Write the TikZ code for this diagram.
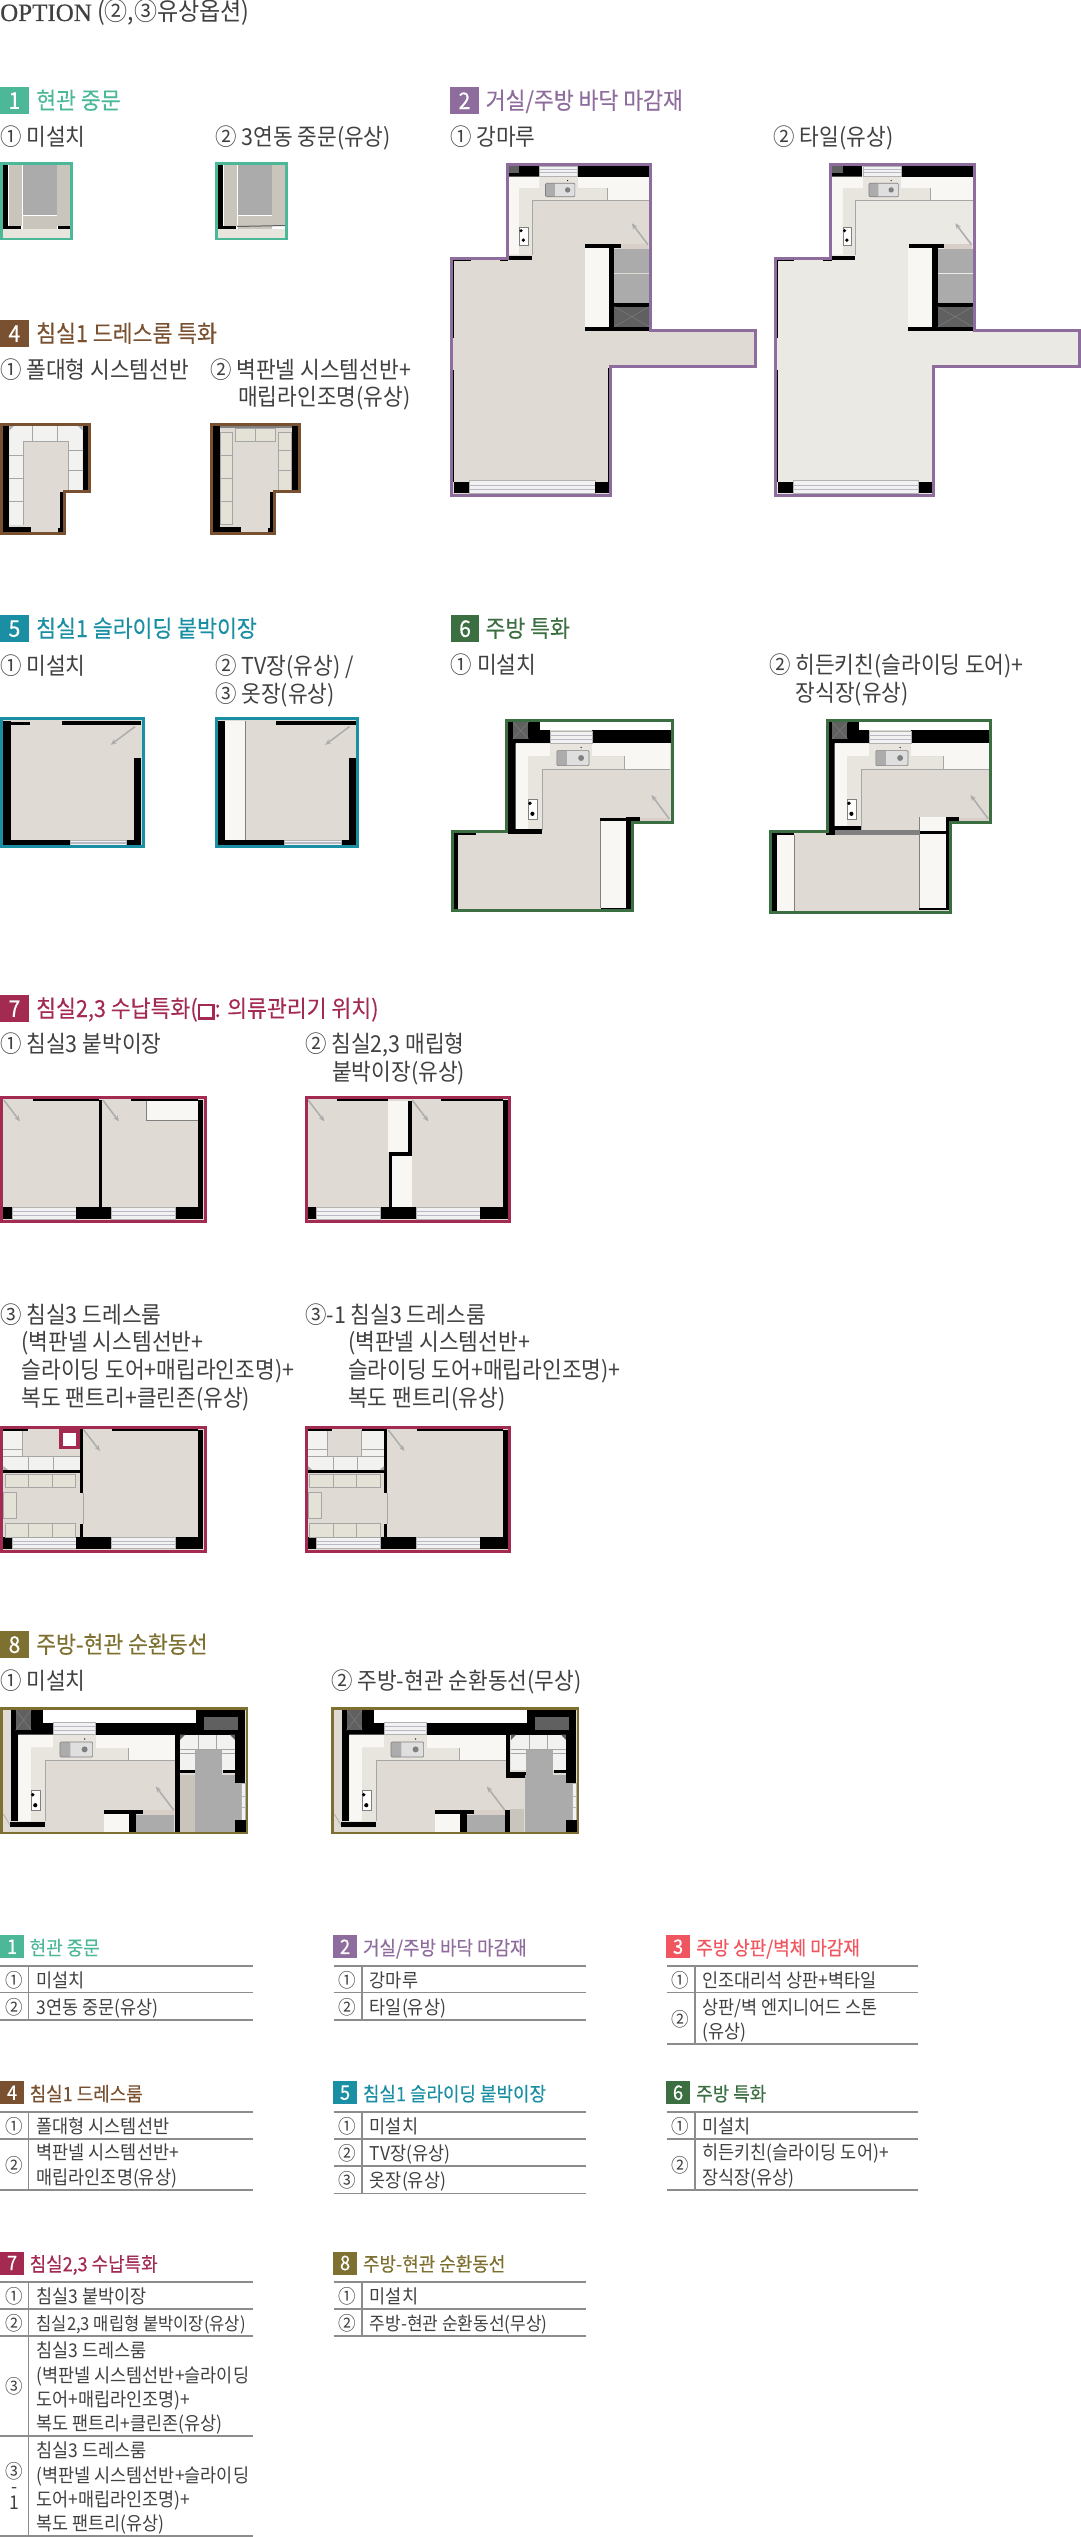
\documentclass[tikz,border=0pt]{standalone}
\usepackage{fontspec}
\usetikzlibrary{arrows.meta}
\setmainfont[FakeStretch=0.92]{Noto Sans CJK KR}
\newfontfamily\headfont[FakeStretch=0.92,FakeBold=0.3]{Noto Sans CJK KR}
\newfontfamily\titlefont[FakeBold=0.6]{Liberation Serif}

\definecolor{optone}{HTML}{4DB898}
\definecolor{opttwo}{HTML}{8F6C9E}
\definecolor{optthree}{HTML}{F0565F}
\definecolor{optfour}{HTML}{7A5130}
\definecolor{optfive}{HTML}{1A8FA3}
\definecolor{optsix}{HTML}{3B6E41}
\definecolor{optseven}{HTML}{A32A50}
\definecolor{opteight}{HTML}{7D7030}
\definecolor{labelgray}{HTML}{404040}
\definecolor{floorA}{HTML}{DFDAD4}
\definecolor{floorB}{HTML}{EBE9E4}
\definecolor{cabbeige}{HTML}{E4E1D6}
\definecolor{cabgray}{HTML}{C9C5BD}
\definecolor{whitecab}{HTML}{F8F7F3}
\definecolor{lightcab}{HTML}{E8E4DE}
\definecolor{tilewhite}{HTML}{F2F2F0}
\definecolor{stonegray}{HTML}{ABABAB}
\definecolor{darkgray}{HTML}{606060}
\definecolor{stripbrown}{HTML}{D8CFC8}

\tikzset{
    optlabel/.style={anchor=west, inner sep=0pt, text=labelgray, font=\fontsize{23.3}{27}\selectfont, text height=21pt, text depth=2pt},
    sechead/.style={anchor=west, inner sep=0pt, font=\headfont\fontsize{23.5}{27}\selectfont, text height=20pt, text depth=3pt},
    badge/.style={anchor=north west, inner sep=0pt, minimum width=28.5pt, minimum height=27pt, text=white, font=\headfont\fontsize{23}{27}\selectfont},
    tabbadge/.style={anchor=north west, inner sep=0pt, minimum width=23.7pt, minimum height=23pt, text=white, font=\headfont\fontsize{20}{24}\selectfont},
    tabhead/.style={anchor=west, inner sep=0pt, font=\headfont\fontsize{19.5}{24}\selectfont, text height=19pt, text depth=2pt},
    tabtext/.style={anchor=west, inner sep=0pt, text=labelgray, font=\fontsize{19}{24}\selectfont, text height=18pt, text depth=2.5pt},
    tabnum/.style={anchor=center, inner sep=0pt, text=labelgray, font=\fontsize{19}{24}\selectfont, text height=18pt, text depth=2.5pt},
    tabrule/.style={draw=gray!90, line width=1.5pt},
    doorline/.style={draw=gray!65, line width=1.5pt, -{Stealth[open,length=6pt,width=5pt]}},
    thinline/.style={draw=gray!70, line width=0.6pt},
}

\newcommand{\planbox}[5]{\fill[#1] (#2,#3) rectangle (#4,#5);}
\newcommand{\cabbox}[4]{\draw[thinline, fill=cabbeige] (#1,#2) rectangle (#3,#4);}
\newcommand{\windowbar}[4]{%
    \fill[white!95!black] (#1,#2) rectangle (#3,#4);
    \draw[gray!60, line width=0.5pt] (#1,#2) rectangle (#3,#4);
    \draw[blue!10!gray!50, line width=0.9pt] (#1,{#2+(#4-#2)*0.35}) -- (#3,{#2+(#4-#2)*0.35});
    \draw[blue!10!gray!50, line width=0.9pt] (#1,{#2+(#4-#2)*0.65}) -- (#3,{#2+(#4-#2)*0.65});
}
\newcommand{\xsquare}[4]{%
    \fill[darkgray] (#1,#2) rectangle (#3,#4);
    \draw[gray, line width=0.4pt] (#1,#2) -- (#3,#4) (#1,#4) -- (#3,#2);
}
\newcommand{\kitchenpart}{%
    \fill[whitecab] (0,0) -- (35,0) -- (35,13) -- (12.7,13) -- (12.7,86.7) -- (0,86.7) -- cycle;
    \fill[lightcab] (12.7,13) -- (35,13) -- (35,0) -- (77.3,0) -- (77.3,13) -- (110,13) -- (110,26) -- (26.7,26) -- (26.7,86.7) -- (12.7,86.7) -- cycle;
    \planbox{whitecab}{77.3}{0}{110}{13}
    \planbox{whitecab}{110}{0}{156.7}{26}
    \draw[thinline] (110,13) -- (110,26) -- (26.7,26) -- (26.7,86.7);
    \draw[thinline] (110,26) -- (156.7,26);
    \windowbar{35}{-12}{77.3}{0}
    \fill[gray!25, rounded corners=1pt] (41.7,7.3) rectangle (74.3,22.3);
    \fill[gray!65, rounded corners=1pt] (41.7,7.3) rectangle (52,22.3);
    \draw[gray, line width=0.6pt, rounded corners=1pt] (41.7,7.3) rectangle (74.3,22.3);
    \fill[gray] (66.3,14.7) circle (3);
    \fill[black] (66.3,4.3) circle (0.7);
    \fill[white] (12.7,55.7) rectangle (22.3,75.7);
    \draw[gray, line width=0.4pt] (12.7,55.7) rectangle (22.3,75.7);
    \fill[black] (14.5,60) circle (1.9) (17,70.5) circle (2.1);
    \planbox{stripbrown}{125}{75}{155.7}{80.7}
    \planbox{black}{85.7}{75}{125}{79.7}
    \draw[doorline] (155.5,75.5) -- (137.5,51.7);
}
\newcommand{\kitchenwalls}[3]{%
    \planbox{black}{-7.4}{#1}{0}{86.7}
    \planbox{black}{-7.4}{#1}{24.6}{#2}
    \planbox{black}{0}{#2}{35}{0}
    \planbox{white}{24.6}{#1}{#3}{#2}
    \planbox{black}{77.3}{#2}{#3}{0}
    \xsquare{-2.7}{#1}{13}{-4.5}
}
\newcommand{\livingplan}[1]{%
    \fill[#1] (57,1.5) -- (200.5,1.5) -- (200.5,168.2) -- (305.5,168.2) -- (305.5,204.2) -- (160.3,204.2) -- (160.3,333.2) -- (1.5,333.2) -- (1.5,95.5) -- (57,95.5) -- cycle;
    \planbox{black}{58}{3.3}{88.8}{14}
    \planbox{darkgray}{58}{3.3}{69.3}{10}
    \planbox{black}{127.4}{3.3}{199}{14}
    \begin{scope}[shift={(58,14)}, scale=0.9]
        \kitchenpart
    \end{scope}
    \planbox{black}{58}{93}{81.7}{97.3}
    \planbox{black}{2.9}{96.7}{20.7}{98}
    \planbox{black}{49.8}{96.7}{58}{98}
    \planbox{black}{2.9}{97.3}{4.1}{175.7}
    \planbox{black}{2.9}{207.3}{4.1}{319}
    \planbox{whitecab}{134.9}{85.7}{158.5}{164}
    \planbox{black}{158.5}{85.7}{164.3}{164}
    \planbox{stonegray}{164.3}{86.7}{199.2}{110}
    \planbox{stonegray}{164.3}{111.7}{199.2}{140}
    \planbox{black}{164.3}{140}{199.2}{144}
    \xsquare{164.3}{144}{199.2}{164}
    \planbox{black}{134.9}{164}{199.2}{168}
    \planbox{black}{4.1}{319}{19.5}{330}
    \windowbar{19.5}{318}{145.2}{330.7}
    \planbox{black}{145.2}{319}{158.9}{330}
    \planbox{black}{158.4}{205.7}{159.2}{319}
    \draw[opttwo, line width=3pt] (57,1.5) -- (200.5,1.5) -- (200.5,168.2) -- (305.5,168.2) -- (305.5,204.2) -- (160.3,204.2) -- (160.3,333.2) -- (1.5,333.2) -- (1.5,95.5) -- (57,95.5) -- cycle;
}
\newcommand{\bedoneplan}{%
    \planbox{floorA}{1.5}{1.5}{143}{130}
    \planbox{black}{3.3}{3.3}{10.7}{127.7}
    \planbox{black}{61.7}{3.3}{141}{8}
    \planbox{black}{134.3}{40.3}{141}{127.7}
    \planbox{black}{3.3}{122.7}{70}{127.7}
    \planbox{black}{126.7}{122.7}{141}{127.7}
    \windowbar{70}{122.7}{126.7}{128.3}
    \draw[doorline] (135,9.3) -- (110.7,27.5);
}
\newcommand{\bedshell}{%
    \planbox{floorA}{1.5}{1.5}{205}{125}
    \planbox{black}{198}{3.8}{203.3}{122.6}
    \planbox{black}{3.3}{111}{12.2}{122.6}
    \windowbar{12.2}{111}{76}{122.6}
    \planbox{black}{76}{111}{111.4}{122.6}
    \windowbar{111.4}{111}{175.5}{122.6}
    \planbox{black}{175.5}{111}{203.3}{122.6}
}
\newcommand{\dressroom}{%
    \planbox{tilewhite}{3.3}{4}{79.6}{44}
    \planbox{floorA}{22.4}{4}{57}{30.7}
    \draw[thinline] (22.4,4) -- (22.4,30.7) -- (57,30.7) -- (57,4);
    \draw[thinline] (3.3,23) -- (22.4,23) (3.3,30.7) -- (79.6,30.7) (28.6,30.7) -- (28.6,44) (53,30.7) -- (53,44);
    \fill[stonegray] (3.3,40) -- (8,44) -- (3.3,44) -- cycle;
    \planbox{black}{3.3}{44}{79.6}{47}
    \planbox{black}{3.3}{3}{27.8}{4.5}
    \planbox{black}{79.6}{3}{82.9}{67}
    \planbox{black}{79.6}{97.7}{82.9}{111}
    \planbox{black}{112}{3}{198}{4.6}
    \cabbox{5}{48}{75.5}{61.3}
    \cabbox{3.3}{66}{16.3}{92}
    \cabbox{5}{97.7}{75.5}{111}
    \draw[thinline] (28.6,48) -- (28.6,61.3) (52,48) -- (52,61.3) (28.6,97.7) -- (28.6,111) (52,97.7) -- (52,111);
    \draw[thinline] (82.9,67) -- (82.9,97.7);
    \draw[doorline] (83.7,3.8) -- (100,25);
}
\newcommand{\opttable}[6]{%
    \foreach \y in {#4} {
        \draw[tabrule] (#1,\y) -- (#3,\y);
    }
    \draw[tabrule] (#2,#5) -- (#2,#6);
}
\newcommand{\dresstiles}{%
    \planbox{tilewhite}{180}{27.7}{235}{62.7}
    \draw[thinline] (198.3,27.7) -- (198.3,42.7) (216.7,27.7) -- (216.7,42.7) (180,42.7) -- (235,42.7) (180,46.7) -- (195,46.7) (221.7,46.7) -- (235,46.7);
    \fill[darkgray] (180,27.7) -- (185,27.7) -- (180,33) -- cycle;
    \fill[darkgray] (235,27.7) -- (230,27.7) -- (235,33) -- cycle;
    \planbox{stonegray}{195}{42.7}{221.7}{68.3}
    \planbox{black}{222.7}{62.7}{235}{65.7}
    \planbox{black}{235}{27.7}{245}{76}
    \windowbar{241.7}{76.7}{245.7}{113.3}
    \planbox{black}{235}{113.3}{245.7}{125}
    \draw[thinline] (3.3,107) -- (10,118);
}
\newcommand{\kitchenloop}{%
    \planbox{floorA}{1.5}{1.5}{246.5}{125.5}
    \begin{scope}[shift={(18.3,27.7)}]
        \kitchenwalls{-25}{-12}{178}
        \kitchenpart
        \planbox{black}{178}{-25}{226.7}{0}
        \planbox{black}{77.3}{-12}{226.7}{0}
        \planbox{black}{-8.3}{87}{26.7}{92.3}
    \end{scope}
    \planbox{darkgray}{204}{10}{238}{23.3}
    \planbox{whitecab}{103.7}{107.4}{129.3}{125}
    \planbox{black}{129.3}{107.4}{136}{125}
    \planbox{stonegray}{136}{108.4}{174}{125}
}

\begin{document}
\begin{tikzpicture}[x=1pt, y=-1pt]
    \useasboundingbox (0,0) rectangle (1081,2537);

    \node[anchor=west, inner sep=0pt, text=labelgray, font=\fontsize{25}{30}\selectfont, text height=20pt, text depth=3pt] (title) at (0,12.5) {{\titlefont\fontsize{25}{30}\selectfont OPTION} (②,③유상옵션)};

    \node[badge, fill=optone] (b1) at (0,87) {1};
    \node[sechead, text=optone] (h1) at (36,100.5) {현관 중문};
    \node[optlabel] (l11) at (0,136) {① 미설치};
    \node[optlabel] (l12) at (215,136) {② 3연동 중문(유상)};
    \foreach \px in {0,215} {
        \begin{scope}[shift={(\px,162)}, xscale=0.983]
            \planbox{black}{3.4}{2.5}{8.5}{67}
            \planbox{cabgray}{9}{2.5}{22}{64}
            \planbox{black}{8.5}{64}{21.4}{67}
            \planbox{stonegray}{23}{2.5}{57.6}{52.5}
            \planbox{cabgray}{23}{53.5}{57.6}{67}
            \planbox{cabgray}{58}{2.5}{71}{64}
            \planbox{lightcab}{3.4}{67}{71}{75.7}
        \end{scope}
    }
    \planbox{black}{58}{226}{70}{229}
    \draw[darkgray, line width=1pt] (237,226.5) -- (285,225.5);
    \draw[optone, line width=2.5pt] (1.25,163.25) rectangle (71.5,238.75);
    \draw[optone, line width=2.5pt] (216.25,163.25) rectangle (286.5,238.75);

    \node[badge, fill=optfour] (b4) at (0,320) {4};
    \node[sechead, text=optfour] (h4) at (36,333.5) {침실1 드레스룸 특화};
    \node[optlabel] (l41) at (0,369) {① 폴대형 시스템선반};
    \node[optlabel] (l42) at (210,369) {② 벽판넬 시스템선반+};
    \node[optlabel] (l42b) at (238,396) {매립라인조명(유상)};
    \begin{scope}[shift={(0,423)}, xscale=0.983]
        \fill[floorA] (1.5,1.5) -- (91.5,1.5) -- (91.5,68) -- (65.5,68) -- (65.5,110) -- (1.5,110) -- cycle;
        \planbox{black}{3}{3}{9.5}{109}
        \planbox{black}{84}{3}{90.5}{66.8}
        \fill[tilewhite] (9.5,3) -- (84,3) -- (84,66.8) -- (69.5,66.8) -- (69.5,18.6) -- (24,18.6) -- (24,101.8) -- (9.5,101.8) -- cycle;
        \draw[thinline] (24,101.8) -- (24,18.6) -- (69.5,18.6) -- (69.5,66.8);
        \foreach \gx in {33,58.6} {
            \draw[thinline] (\gx,3) -- (\gx,18.6);
        }
        \foreach \gy in {26.8,47.5} {
            \draw[thinline] (69.5,\gy) -- (84,\gy);
        }
        \foreach \gy in {32,55,78.6} {
            \draw[thinline] (9.5,\gy) -- (24,\gy);
        }
        \fill[stonegray] (9.5,3) -- (14,3) -- (9.5,7.5) -- cycle;
        \fill[stonegray] (84,3) -- (79.5,3) -- (84,7.5) -- cycle;
        \planbox{black}{3}{103.6}{31.5}{109}
        \planbox{black}{61}{69}{64.4}{109}
        \planbox{black}{59.3}{104.6}{64.4}{109}
        \draw[optfour, line width=3pt] (1.5,1.5) -- (91.5,1.5) -- (91.5,68) -- (65.5,68) -- (65.5,110) -- (1.5,110) -- cycle;
    \end{scope}
    \begin{scope}[shift={(210,423)}, xscale=0.983]
        \fill[floorA] (1.5,1.5) -- (91.5,1.5) -- (91.5,68) -- (65.5,68) -- (65.5,110) -- (1.5,110) -- cycle;
        \planbox{gray}{10}{3}{83}{5}
        \planbox{black}{3}{3}{10}{109}
        \cabbox{10}{9}{22.4}{101}
        \cabbox{26}{5.4}{66}{18.6}
        \cabbox{69.5}{9}{83}{67}
        \planbox{black}{83}{3}{90.5}{67}
        \draw[thinline] (10,32) -- (22.4,32) (10,55) -- (22.4,55) (10,78.6) -- (22.4,78.6) (46,5.4) -- (46,18.6) (69.5,26.8) -- (83,26.8) (69.5,47.5) -- (83,47.5);
        \planbox{black}{3}{103.6}{31.5}{109}
        \planbox{black}{61}{69}{64.4}{109}
        \planbox{black}{59.3}{104.6}{64.4}{109}
        \draw[optfour, line width=3pt] (1.5,1.5) -- (91.5,1.5) -- (91.5,68) -- (65.5,68) -- (65.5,110) -- (1.5,110) -- cycle;
    \end{scope}

    \node[badge, fill=opttwo] (b2) at (450,87) {2};
    \node[sechead, text=opttwo] (h2) at (485.5,100.5) {거실/주방 바닥 마감재};
    \node[optlabel] (l21) at (450,136) {① 강마루};
    \node[optlabel] (l22) at (773.5,136) {② 타일(유상)};
    \begin{scope}[shift={(450,162.7)}]
        \livingplan{floorA}
    \end{scope}
    \begin{scope}[shift={(773.5,162.7)}]
        \livingplan{floorB}
    \end{scope}

    \node[badge, fill=optfive] (b5) at (0,615) {5};
    \node[sechead, text=optfive] (h5) at (36,628.5) {침실1 슬라이딩 붙박이장};
    \node[optlabel] (l51) at (0,665) {① 미설치};
    \node[optlabel] (l52) at (215,665) {② TV장(유상) /};
    \node[optlabel] (l53) at (215,692.5) {③ 옷장(유상)};
    \begin{scope}[shift={(0,717.3)}]
        \bedoneplan
        \planbox{black}{10.7}{4.3}{30}{8}
        \draw[optfive, line width=3pt] (1.5,1.5) rectangle (143,129.5);
    \end{scope}
    \begin{scope}[shift={(214.5,717.3)}]
        \bedoneplan
        \planbox{whitecab}{10.7}{3.3}{30.7}{122.7}
        \draw[gray, line width=0.7pt] (30.7,3.3) -- (30.7,122.7);
        \draw[optfive, line width=3pt] (1.5,1.5) rectangle (143,129.5);
    \end{scope}

    \node[badge, fill=optsix] (b6) at (450.6,615) {6};
    \node[sechead, text=optsix] (h6) at (485.3,628.5) {주방 특화};
    \node[optlabel] (l61) at (450.6,664) {① 미설치};
    \node[optlabel] (l62) at (769,664) {② 히든키친(슬라이딩 도어)+};
    \node[optlabel] (l62b) at (795.6,691.5) {장식장(유상)};
    \begin{scope}[shift={(450.6,719)}, xscale=0.988]
        \fill[floorA] (56.7,1.5) -- (224.3,1.5) -- (224.3,103.5) -- (183.9,103.5) -- (183.9,191.8) -- (1.5,191.8) -- (1.5,112.5) -- (56.7,112.5) -- cycle;
        \begin{scope}[shift={(65.8,24.3)}]
            \kitchenwalls{-21}{-13.3}{157.4}
            \kitchenpart
        \end{scope}
        \planbox{black}{58}{110.3}{92.4}{115.3}
        \planbox{black}{2.4}{113.3}{7.2}{191}
        \planbox{black}{2.4}{113.3}{25.2}{116}
        \planbox{whitecab}{152}{102}{178}{189.3}
        \draw[gray, line width=0.7pt] (152,102) -- (152,189.3);
        \planbox{black}{178}{102}{183.2}{191}
        \planbox{black}{152}{189.3}{183.2}{191}
        \planbox{black}{178}{97.7}{191.2}{102}
        \draw[optsix, line width=3pt] (56.7,1.5) -- (224.3,1.5) -- (224.3,103.5) -- (183.9,103.5) -- (183.9,191.8) -- (1.5,191.8) -- (1.5,112.5) -- (56.7,112.5) -- cycle;
    \end{scope}
    \begin{scope}[shift={(769,719)}, xscale=0.988]
        \fill[floorA] (59.5,1.5) -- (224.1,1.5) -- (224.1,103.5) -- (184.1,103.5) -- (184.1,193.5) -- (1.5,193.5) -- (1.5,112.5) -- (59.5,112.5) -- cycle;
        \begin{scope}[shift={(66.4,24.3)}]
            \kitchenwalls{-21}{-13.3}{156.7}
            \kitchenpart
        \end{scope}
        \planbox{black}{66.4}{106.7}{92.8}{111}
        \planbox{black}{58}{106.7}{66.8}{116}
        \planbox{gray}{66.8}{111}{152}{116}
        \planbox{black}{2.8}{113.3}{7.6}{192.7}
        \planbox{black}{2.8}{113.3}{25.6}{116}
        \planbox{whitecab}{7.6}{116}{25.6}{192.7}
        \draw[gray, line width=0.7pt] (25.6,116) -- (25.6,192.7);
        \planbox{whitecab}{152}{97.7}{178.8}{112}
        \planbox{black}{152}{112}{178.8}{115.3}
        \planbox{whitecab}{152}{115.3}{178.8}{189.3}
        \draw[gray, line width=0.7pt] (152,97.7) -- (152,189.3);
        \planbox{black}{178.8}{97.7}{184.8}{191}
        \planbox{black}{152}{189.3}{184.8}{191}
        \planbox{black}{178.8}{97.7}{192}{101.7}
        \draw[optsix, line width=3pt] (59.5,1.5) -- (224.1,1.5) -- (224.1,103.5) -- (184.1,103.5) -- (184.1,193.5) -- (1.5,193.5) -- (1.5,112.5) -- (59.5,112.5) -- cycle;
    \end{scope}

    \node[badge, fill=optseven] (b7) at (0,995) {7};
    \node[sechead, text=optseven] (h7) at (36,1008.5) {침실2,3 수납특화({\setlength{\fboxsep}{0pt}\setlength{\fboxrule}{2.5pt}\raisebox{0pt}{\fbox{\rule{12pt}{0pt}\rule{0pt}{11pt}}}}: 의류관리기 위치)};
    \node[optlabel] (l71) at (0,1043) {① 침실3 붙박이장};
    \node[optlabel] (l72) at (305,1043) {② 침실2,3 매립형};
    \node[optlabel] (l72b) at (332,1070.5) {붙박이장(유상)};
    \begin{scope}[shift={(0,1096.4)}]
        \bedshell
        \planbox{black}{32.7}{3}{98.8}{4.6}
        \planbox{black}{131}{3}{198}{4.6}
        \planbox{black}{98.8}{3.8}{102}{111}
        \planbox{whitecab}{146}{4.6}{198}{24}
        \draw[gray, line width=0.7pt] (146,4.6) -- (146,24) -- (198,24);
        \draw[doorline] (4,3.8) -- (20,25);
        \draw[doorline] (102.9,3.8) -- (119,25);
        \draw[optseven, line width=3pt] (1.5,1.5) rectangle (205,125);
    \end{scope}
    \begin{scope}[shift={(304.5,1096.4)}]
        \bedshell
        \planbox{black}{32.7}{3}{83.3}{4.6}
        \planbox{black}{136}{3}{198}{4.6}
        \planbox{whitecab}{83.3}{4.6}{103.7}{55.6}
        \planbox{black}{103.7}{4.6}{107}{57.5}
        \planbox{black}{84.5}{56}{107}{59.4}
        \planbox{black}{84.5}{57.5}{87.3}{111}
        \planbox{whitecab}{87.3}{59.4}{107}{111}
        \draw[doorline] (3.7,3.8) -- (20,25);
        \draw[doorline] (107.8,3.8) -- (124,25);
        \draw[optseven, line width=3pt] (1.5,1.5) rectangle (205,125);
    \end{scope}

    \node[optlabel] (l73) at (0,1314) {③ 침실3 드레스룸};
    \node[optlabel] (l73b) at (21.5,1341) {(벽판넬 시스템선반+};
    \node[optlabel] (l73c) at (21.5,1369) {슬라이딩 도어+매립라인조명)+};
    \node[optlabel] (l73d) at (21.5,1396.5) {복도 팬트리+클린존(유상)};
    \node[optlabel] (l74) at (305,1314) {③-1 침실3 드레스룸};
    \node[optlabel] (l74b) at (348,1341) {(벽판넬 시스템선반+};
    \node[optlabel] (l74c) at (348,1369) {슬라이딩 도어+매립라인조명)+};
    \node[optlabel] (l74d) at (348,1396.5) {복도 팬트리(유상)};
    \begin{scope}[shift={(0,1426)}]
        \bedshell
        \dressroom
        \planbox{floorA}{57}{4}{79.6}{30.7}
        \draw[thinline] (57,30.7) -- (79.6,30.7);
        \planbox{optseven}{58.5}{3}{79.6}{23}
        \planbox{white}{62.5}{6.5}{76}{19.5}
        \draw[optseven, line width=3pt] (1.5,1.5) rectangle (205,125);
    \end{scope}
    \begin{scope}[shift={(304.5,1426)}]
        \bedshell
        \dressroom
        \planbox{black}{57}{3}{79.6}{4.5}
        \draw[thinline] (57,23) -- (79.6,23);
        \fill[stonegray] (79.6,40) -- (75,44) -- (79.6,44) -- cycle;
        \draw[optseven, line width=3pt] (1.5,1.5) rectangle (205,125);
    \end{scope}

    \node[badge, fill=opteight] (b8) at (0,1631) {8};
    \node[sechead, text=opteight] (h8) at (36,1644.5) {주방-현관 순환동선};
    \node[optlabel] (l81) at (0,1680) {① 미설치};
    \node[optlabel] (l82) at (331,1680) {② 주방-현관 순환동선(무상)};
    \begin{scope}[shift={(0,1707)}]
        \kitchenloop
        \planbox{black}{175}{27.7}{180}{125}
        \planbox{black}{180}{62.7}{196.7}{65.7}
        \planbox{cabgray}{180}{68.3}{195}{125}
        \planbox{stonegray}{195}{68.3}{241.7}{125}
        \dresstiles
        \draw[opteight, line width=2.5pt] (1.25,1.25) rectangle (246.75,125.75);
    \end{scope}
    \begin{scope}[shift={(331,1707)}]
        \kitchenloop
        \planbox{black}{174.7}{27.7}{179.4}{66.7}
        \planbox{black}{174.7}{65}{195}{70.7}
        \planbox{black}{173.5}{102.7}{178.7}{125}
        \planbox{cabgray}{178.7}{101.7}{193.3}{125}
        \planbox{stonegray}{194}{68.3}{241.7}{125}
        \dresstiles
        \draw[opteight, line width=2.5pt] (1.25,1.25) rectangle (246.75,125.75);
    \end{scope}

    \node[tabbadge, fill=optone] (tb1) at (0,1935) {1};
    \node[tabhead, text=optone] (th1) at (29.5,1946.5) {현관 중문};
    \opttable{0}{28.7}{252.6}{1966,1992.7,2020}{1966}{2020}
    \node[tabnum] (t1n1) at (14.5,1979.3) {①};
    \node[tabtext] (t1t1) at (36.4,1979.3) {미설치};
    \node[tabnum] (t1n2) at (14.5,2006.3) {②};
    \node[tabtext] (t1t2) at (36.4,2006.3) {3연동 중문(유상)};

    \node[tabbadge, fill=opttwo] (tb2) at (333,1935) {2};
    \node[tabhead, text=opttwo] (th2) at (362.8,1946.5) {거실/주방 바닥 마감재};
    \opttable{333.5}{362}{585.5}{1966,1992.7,2020}{1966}{2020}
    \node[tabnum] (t2n1) at (347.5,1979.3) {①};
    \node[tabtext] (t2t1) at (369.7,1979.3) {강마루};
    \node[tabnum] (t2n2) at (347.5,2006.3) {②};
    \node[tabtext] (t2t2) at (369.7,2006.3) {타일(유상)};

    \node[tabbadge, fill=optthree] (tb3) at (666,1935) {3};
    \node[tabhead, text=optthree] (th3) at (696,1946.5) {주방 상판/벽체 마감재};
    \opttable{666.7}{695}{918}{1966,1992.7,2044}{1966}{2044}
    \node[tabnum] (t3n1) at (680.7,1979.3) {①};
    \node[tabtext] (t3t1) at (702.3,1979.3) {인조대리석 상판+벽타일};
    \node[tabnum] (t3n2) at (680.7,2018.5) {②};
    \node[tabtext] (t3t2) at (702.3,2006.7) {상판/벽 엔지니어드 스톤};
    \node[tabtext] (t3t2b) at (702.3,2030.7) {(유상)};

    \node[tabbadge, fill=optfour] (tb4) at (0,2081) {4};
    \node[tabhead, text=optfour] (th4) at (29.5,2092.5) {침실1 드레스룸};
    \opttable{0}{28.7}{252.6}{2112,2139,2190}{2112}{2190}
    \node[tabnum] (t4n1) at (14.5,2125.5) {①};
    \node[tabtext] (t4t1) at (36.4,2125.5) {폴대형 시스템선반};
    \node[tabnum] (t4n2) at (14.5,2164.3) {②};
    \node[tabtext] (t4t2) at (36.4,2151.7) {벽판넬 시스템선반+};
    \node[tabtext] (t4t2b) at (36.4,2176.7) {매립라인조명(유상)};

    \node[tabbadge, fill=optfive] (tb5) at (333,2081) {5};
    \node[tabhead, text=optfive] (th5) at (362.8,2092.5) {침실1 슬라이딩 붙박이장};
    \opttable{333.5}{362}{585.5}{2112,2139,2166,2193.3}{2112}{2193.3}
    \node[tabnum] (t5n1) at (347.5,2125.5) {①};
    \node[tabtext] (t5t1) at (369.7,2125.5) {미설치};
    \node[tabnum] (t5n2) at (347.5,2152.5) {②};
    \node[tabtext] (t5t2) at (369.7,2152.5) {TV장(유상)};
    \node[tabnum] (t5n3) at (347.5,2179.5) {③};
    \node[tabtext] (t5t3) at (369.7,2179.5) {옷장(유상)};

    \node[tabbadge, fill=optsix] (tb6) at (666,2081) {6};
    \node[tabhead, text=optsix] (th6) at (696,2092.5) {주방 특화};
    \opttable{666.7}{695}{918}{2112,2139,2190}{2112}{2190}
    \node[tabnum] (t6n1) at (680.7,2125.5) {①};
    \node[tabtext] (t6t1) at (702.3,2125.5) {미설치};
    \node[tabnum] (t6n2) at (680.7,2164.3) {②};
    \node[tabtext] (t6t2) at (702.3,2151.7) {히든키친(슬라이딩 도어)+};
    \node[tabtext] (t6t2b) at (702.3,2176.7) {장식장(유상)};

    \node[tabbadge, fill=optseven] (tb7) at (0,2251.3) {7};
    \node[tabhead, text=optseven] (th7) at (29.5,2262.7) {침실2,3 수납특화};
    \opttable{0}{28.7}{252.6}{2282,2309,2336,2436,2536}{2282}{2536}
    \node[tabnum] (t7n1) at (14.5,2295.5) {①};
    \node[tabtext] (t7t1) at (36.4,2295.5) {침실3 붙박이장};
    \node[tabnum] (t7n2) at (14.5,2322.5) {②};
    \node[tabtext, font=\fontsize{18}{24}\selectfont] (t7t2) at (36.4,2322.5) {침실2,3 매립형 붙박이장(유상)};
    \node[tabnum] (t7n3) at (14.5,2385.7) {③};
    \node[tabtext] (t7t3) at (36.4,2350) {침실3 드레스룸};
    \node[tabtext] (t7t3b) at (36.4,2374.3) {(벽판넬 시스템선반+슬라이딩};
    \node[tabtext] (t7t3c) at (36.4,2398.3) {도어+매립라인조명)+};
    \node[tabtext] (t7t3d) at (36.4,2422.7) {복도 팬트리+클린존(유상)};
    \node[tabnum] (t7n4) at (14.5,2470.7) {③};
    \node[tabnum] (t7n4b) at (14.5,2486) {-};
    \node[tabnum] (t7n4c) at (14.5,2501.7) {1};
    \node[tabtext] (t7t4) at (36.4,2450) {침실3 드레스룸};
    \node[tabtext] (t7t4b) at (36.4,2474.3) {(벽판넬 시스템선반+슬라이딩};
    \node[tabtext] (t7t4c) at (36.4,2498.3) {도어+매립라인조명)+};
    \node[tabtext] (t7t4d) at (36.4,2522.7) {복도 팬트리(유상)};

    \node[tabbadge, fill=opteight] (tb8) at (333,2251.3) {8};
    \node[tabhead, text=opteight] (th8) at (362.8,2262.7) {주방-현관 순환동선};
    \opttable{333.5}{362}{585.5}{2282,2309,2336}{2282}{2336}
    \node[tabnum] (t8n1) at (347.5,2295.5) {①};
    \node[tabtext] (t8t1) at (369.7,2295.5) {미설치};
    \node[tabnum] (t8n2) at (347.5,2322.5) {②};
    \node[tabtext, font=\fontsize{18.5}{24}\selectfont] (t8t2) at (369.7,2322.5) {주방-현관 순환동선(무상)};
\end{tikzpicture}
\end{document}
